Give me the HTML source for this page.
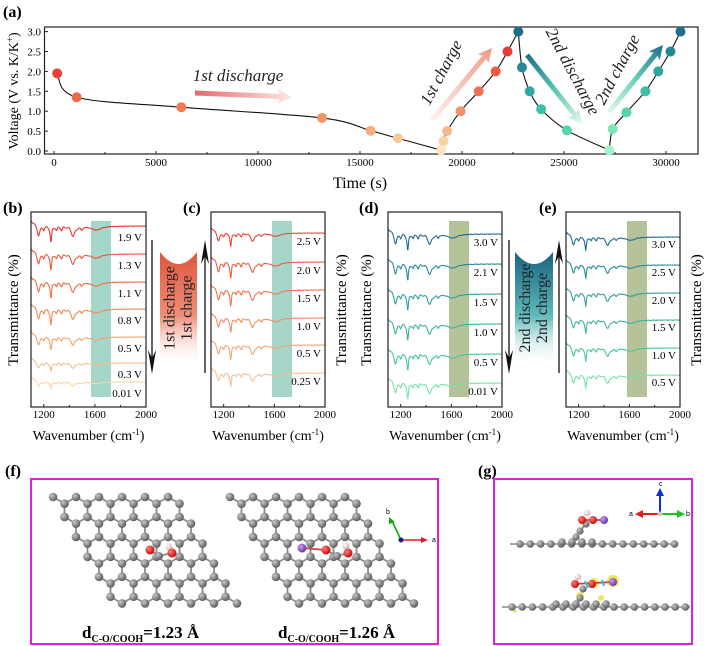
<!DOCTYPE html>
<html><head><meta charset="utf-8">
<style>
html,body{margin:0;padding:0;background:#fff;}
svg{display:block;font-family:"Liberation Serif",serif;}
</style></head>
<body>
<svg id="fig" width="708" height="646" viewBox="0 0 708 646" xmlns="http://www.w3.org/2000/svg">
<defs>
  <radialGradient id="cg" cx="0.35" cy="0.35" r="0.7"><stop offset="0" stop-color="#c8c8c8"/><stop offset="1" stop-color="#555"/></radialGradient>
  <radialGradient id="og" cx="0.35" cy="0.35" r="0.7"><stop offset="0" stop-color="#ff8080"/><stop offset="1" stop-color="#c80000"/></radialGradient>
  <radialGradient id="hg" cx="0.35" cy="0.35" r="0.7"><stop offset="0" stop-color="#fff"/><stop offset="1" stop-color="#d8a8a8"/></radialGradient>
  <radialGradient id="kg" cx="0.35" cy="0.35" r="0.7"><stop offset="0" stop-color="#c8a0f0"/><stop offset="1" stop-color="#6a2aa8"/></radialGradient>
  <linearGradient id="fr" x1="0" y1="0" x2="0" y2="1"><stop offset="0" stop-color="#e0553f"/><stop offset="0.55" stop-color="#ee8e78"/><stop offset="1" stop-color="#fff" stop-opacity="0"/></linearGradient>
  <linearGradient id="ft" x1="0" y1="0" x2="0" y2="1"><stop offset="0" stop-color="#1a6482"/><stop offset="0.55" stop-color="#5fb9b9"/><stop offset="1" stop-color="#fff" stop-opacity="0"/></linearGradient>
  <linearGradient id="a1" x1="0" y1="0" x2="1" y2="0"><stop offset="0" stop-color="#e46a6a"/><stop offset="1" stop-color="#fde8e4"/></linearGradient>
  <linearGradient id="a2" x1="0" y1="0" x2="1" y2="0"><stop offset="0" stop-color="#fff0ec"/><stop offset="1" stop-color="#ee9a8c"/></linearGradient>
  <linearGradient id="a3" x1="0" y1="0" x2="1" y2="0"><stop offset="0" stop-color="#1e6e8e"/><stop offset="0.5" stop-color="#5cc4b0"/><stop offset="1" stop-color="#e4f9ee"/></linearGradient>
  <linearGradient id="a4" x1="0" y1="0" x2="1" y2="0"><stop offset="0" stop-color="#dcf8e8"/><stop offset="0.5" stop-color="#6ad0b4"/><stop offset="1" stop-color="#1e6e8e"/></linearGradient>
</defs>
<g id="root"></g>
</svg>
<script>
// ---------- Panel (a) data ----------
const timeS=[156,1110,6240,13140,15520,16860,18980,19090,19270,19930,20820,21650,22230,22760,22940,23320,23880,25140,27220,27390,28060,28990,29620,30220,30710];
const voltV=[1.95,1.35,1.1,0.83,0.51,0.32,0.02,0.25,0.5,1.0,1.5,2.0,2.5,3.0,2.1,1.5,1.05,0.52,0.02,0.55,0.97,1.5,2.0,2.5,3.0];
const segBreaks=[0,6,13,18,24];
const xTicksA=[0,5000,10000,15000,20000,25000,30000];
const yTicksA=[0,0.5,1.0,1.5,2.0,2.5,3.0];
const markerColors=['#e8403a','#ee6a48','#f07a52','#f2956a','#f6b080','#f9c79c','#fde3c2','#fbd3a8','#f8b98a','#f2916a','#ee7353','#eb5a42','#e53e36','#1e6e8e','#24899a','#2fa8a4','#3cc0a6','#55d6a8','#a8f0c8','#7fe6b4','#55d4a8','#3cbfa4','#2ea5a0','#248a98','#1e6e8e'];
// ---------- FTIR data ----------
const peakPos=[1160,1200,1256,1300,1340,1430,1495,1610];
const peakDepth=[9,3,16,4,4,10,3,4];
const peakWidth=[12,6,7,7,7,18,10,45];
const wnTicks=[1200,1600,2000];
const voltsB=['1.9 V','1.3 V','1.1 V','0.8 V','0.5 V','0.3 V','0.01 V'];
const voltsC=['2.5 V','2.0 V','1.5 V','1.0 V','0.5 V','0.25 V'];
const voltsD=['3.0 V','2.1 V','1.5 V','1.0 V','0.5 V','0.01 V'];
const voltsE=['3.0 V','2.5 V','2.0 V','1.5 V','1.0 V','0.5 V'];
const ampB=[1,1,1,1,0.8,0.5,0.4];
const ampC=[0.8,1,1,0.9,0.9,0.8];
const ampD=[1,1,1,1,1,1];
const ampE=[0.8,0.8,0.8,0.8,0.8,0.8];

const NS='http://www.w3.org/2000/svg';
const root=document.getElementById('root');
function mk(tag,attrs,parent,text){const e=document.createElementNS(NS,tag);for(const k in attrs)e.setAttribute(k,attrs[k]);if(text!==undefined)e.textContent=text;(parent||root).appendChild(e);return e;}

// ---------- Panel (a) ----------
const gA=mk('g',{});


const xA=t=>54+t*0.0204, yA=v=>151-v*39.8;
let lab=mk('text',{x:3,y:17,'font-size':16,'font-weight':'bold'},gA,'(a)');


const fa=mk('rect',{x:44.5,y:27,width:653.5,height:127,fill:'none',stroke:'#222','stroke-width':1.2},gA);


xTicksA.forEach(t=>{
  mk('line',{x1:xA(t),x2:xA(t),y1:154,y2:151,stroke:'#222'},gA);
  mk('line',{x1:xA(t+2500),x2:xA(t+2500),y1:154,y2:152,stroke:'#222'},gA);
  const l=mk('text',{x:xA(t),y:166,'font-size':11,'text-anchor':'middle'},gA,String(t));
  
  
});
yTicksA.forEach(v=>{
  mk('line',{x1:44.5,x2:48,y1:yA(v),y2:yA(v),stroke:'#222'},gA);
  const l=mk('text',{x:41,y:yA(v)+4,'font-size':11,'text-anchor':'end'},gA,v.toFixed(1));
  
  
});
let xt=mk('text',{x:360,y:188,'font-size':16,'text-anchor':'middle'},gA,'Time (s)');


let yt=mk('text',{x:0,y:0,'font-size':14,'text-anchor':'middle',transform:'translate(18,91) rotate(-90)'},gA);
yt.innerHTML='Voltage (V vs. K/K<tspan dy="-5" font-size="9">+</tspan><tspan dy="5">)</tspan>';


function crPath(pts){let d=`M${pts[0][0]},${pts[0][1]}`;for(let i=0;i<pts.length-1;i++){const p0=pts[Math.max(0,i-1)],p1=pts[i],p2=pts[i+1],p3=pts[Math.min(pts.length-1,i+2)];d+=` C${p1[0]+(p2[0]-p0[0])/6},${p1[1]+(p2[1]-p0[1])/6} ${p2[0]-(p3[0]-p1[0])/6},${p2[1]-(p3[1]-p1[1])/6} ${p2[0]},${p2[1]}`;}return d;}
for(let s=0;s<segBreaks.length-1;s++){
  const pts=[];for(let i=segBreaks[s];i<=segBreaks[s+1];i++)pts.push([xA(timeS[i]),yA(voltV[i])]);
  const p=mk('path',{d:crPath(pts),fill:'none',stroke:'#111','stroke-width':1.1},gA);
  
  
}
timeS.forEach((t,i)=>{
  const c=mk('circle',{cx:xA(t),cy:yA(voltV[i]),r:5,fill:markerColors[i]},gA);
  
  
});
function gradArrow(x1,y1,x2,y2,grad,name){
  const ang=Math.atan2(y2-y1,x2-x1),L=Math.hypot(x2-x1,y2-y1);
  const g=mk('g',{transform:`translate(${x1},${y1}) rotate(${ang*180/Math.PI})`},gA);
  
  
  mk('path',{d:`M0,-2.5 L${L-12},-2.5 L${L-14},-7 L${L},0 L${L-14},7 L${L-12},2.5 L0,2.5 Z`,fill:`url(#${grad})`},g);
}
gradArrow(195,93,292,97,'a1','arrow-1st-discharge');
gradArrow(432,120,492,48,'a2','arrow-1st-charge');
gradArrow(527,55,582,124,'a3','arrow-2nd-discharge');
gradArrow(609,112,663,45,'a4','arrow-2nd-charge');
function itext(x,y,rot,s,name){const t=mk('text',{x:0,y:0,'font-size':17,'font-style':'italic','text-anchor':'middle',fill:'#222',transform:`translate(${x},${y}) rotate(${rot})`},gA,s);}
itext(238,81,0,'1st discharge','label-1st-discharge');
itext(446,75,-62,'1st charge','label-1st-charge');
itext(568,74,62,'2nd discharge','label-2nd-discharge');
itext(622,72,-62,'2nd charge','label-2nd-charge');

// ---------- FTIR panels ----------
function ftir(cfg){
  const g=mk('g',{});
  
  
  const L=cfg.L,R=cfg.R,T=212,B=407;
  const xw=w=>L+(w-1100)/900*(R-L);
  const l=mk('text',{x:cfg.lx,y:213,'font-size':16,'font-weight':'bold'},g,cfg.label);
  
  
  const band=mk('rect',{x:cfg.bx,y:221,width:20,height:176,fill:cfg.band},g);
  
  
  cfg.volts.forEach((v,k)=>{
    let d='';
    for(let w=1100;w<=2000;w+=2){
      let y=cfg.base[k]-(w<1150?6*(1150-w)/50:0);
      for(let p=0;p<peakPos.length;p++){const dw=w-peakPos[p];y+=cfg.amp[k]*peakDepth[p]*peakWidth[p]*peakWidth[p]/(dw*dw+peakWidth[p]*peakWidth[p]);}
      y+=0.8*Math.sin(w/7)*(w<1500?1:0.2)*cfg.amp[k];
      d+=(d?' L':'M')+xw(w).toFixed(1)+','+y.toFixed(1);
    }
    const p=mk('path',{d,fill:'none',stroke:cfg.colors[k],'stroke-width':1.1},g);
    
    
    const t=mk('text',{x:R-4,y:cfg.base[k]+cfg.lo,'font-size':11,'text-anchor':'end'},g,v);
    
    
  });
  const fr=mk('rect',{x:L,y:T,width:R-L,height:B-T,fill:'none',stroke:'#222','stroke-width':1.2},g);
  
  
  wnTicks.forEach(w=>{
    mk('line',{x1:xw(w),x2:xw(w),y1:B,y2:B-3,stroke:'#222'},g);
    if(w-200>1100)mk('line',{x1:xw(w-200),x2:xw(w-200),y1:B,y2:B-2,stroke:'#222'},g);
    const t=mk('text',{x:xw(w),y:418,'font-size':11,'text-anchor':'middle'},g,String(w));
    
    
  });
  const xtt=mk('text',{x:(L+R)/2,y:440,'font-size':14,'text-anchor':'middle'},g);
  xtt.innerHTML='Wavenumber (cm<tspan dy="-5" font-size="9">-1</tspan><tspan dy="5">)</tspan>';
  
  
  const ytt=mk('text',{x:0,y:0,'font-size':15,'text-anchor':'middle',transform:`translate(${cfg.tx},310) rotate(-90)`},g,'Transmittance (%)');
  
  
}
ftir({name:'ftir-panel-b',label:'(b)',lx:3,L:31,R:146,bx:91,band:'#a6d6c9',volts:voltsB,amp:ampB,base:[226,254,282,309,337,363,382],lo:15,tx:18,colors:['#e53935','#ea5a3c','#ee6e45','#f08a55','#f4a56c','#f7bd88','#fbd4a8']});
ftir({name:'ftir-panel-c',label:'(c)',lx:183,L:211,R:325,bx:272,band:'#a6d6c9',volts:voltsC,amp:ampC,base:[233,262,290,318,345,373],lo:12,tx:346,colors:['#e8483a','#ec5e40','#ef7450','#f28c62','#f5a479','#f8bf94']});
ftir({name:'ftir-panel-d',label:'(d)',lx:359,L:388,R:502,bx:449,band:'#b4c39a',volts:voltsD,amp:ampD,base:[234,264,294,324,354,383],lo:12,tx:371,colors:['#1c6e8c','#2a8a9a','#33a0a0','#3cb59e','#48c79c','#78e2ad']});
ftir({name:'ftir-panel-e',label:'(e)',lx:539,L:566,R:680,bx:627,band:'#b4c39a',volts:voltsE,amp:ampE,base:[237,265,293,320,348,375],lo:11,tx:701,colors:['#1c6e8c','#2a8a9a','#33a0a0','#3cb59e','#48c79c','#78e2ad']});

function funnel(x1,x2,grad,t1,t2,ax1,ax2,name){
  const g=mk('g',{});
  
  
  const m=(x1+x2)/2;
  mk('path',{d:`M${x1},252 Q${m},276 ${x2},252 L${x2},368 Q${m},346 ${x1},368 Z`,fill:`url(#${grad})`},g);
  mk('text',{x:0,y:0,'font-size':16,'text-anchor':'middle',fill:'#222',transform:`translate(${m-4},308) rotate(-90)`},g,t1);
  mk('text',{x:0,y:0,'font-size':16,'text-anchor':'middle',fill:'#222',transform:`translate(${m+13},308) rotate(-90)`},g,t2);
  mk('line',{x1:ax1,x2:ax1,y1:240,y2:360,stroke:'#111','stroke-width':1.3},g);
  mk('path',{d:`M${ax1-4},350 L${ax1},374 L${ax1+4},350 L${ax1},358 Z`,fill:'#111'},g);
  mk('line',{x1:ax2,x2:ax2,y1:254,y2:373,stroke:'#111','stroke-width':1.3},g);
  mk('path',{d:`M${ax2-4},264 L${ax2},240 L${ax2+4},264 L${ax2},256 Z`,fill:'#111'},g);
}
funnel(160,197,'fr','1st discharge','1st charge',152,205,'cycle-1-indicator');
funnel(515,553,'ft','2nd discharge','2nd charge',509,559,'cycle-2-indicator');

// ---------- Panel (f) ----------
function atom(x,y,r,fill,g){mk('circle',{cx:x,cy:y,r:r,fill:`url(#${fill})`},g);}
function bond(x1,y1,x2,y2,g,c){mk('line',{x1,y1,x2,y2,stroke:c||'#8a8a8a','stroke-width':1.8},g);}
function lattice(x0,y0,g){
  const s=23,d=13.3;
  const at=[];
  for(let j=0;j<6;j++)for(let i=0;i<6;i++){
    const ox=x0+i*s+j*s/2,oy=y0+j*1.5*d;
    bond(ox,oy,ox+s/2,oy+d/2,g);
    if(i<5)bond(ox+s/2,oy+d/2,ox+s,oy,g);
    if(j<5)bond(ox+s/2,oy+d/2,ox+s/2,oy+1.5*d,g);
    at.push([ox,oy],[ox+s/2,oy+d/2]);
  }
  at.forEach(a=>atom(a[0],a[1],4.3,'cg',g));
}
const gF=mk('g',{});


lab=mk('text',{x:5,y:476,'font-size':16,'font-weight':'bold'},gF,'(f)');


mk('rect',{x:31,y:479,width:407,height:165,fill:'none',stroke:'#e020e0','stroke-width':2},gF);
lattice(53,497,gF);
lattice(230,497,gF);
bond(150,550,159,556,gF);bond(159,556,172,553,gF);
atom(159,556,4,'cg',gF);atom(150,550,4.5,'og',gF);atom(169,547,3.5,'hg',gF);atom(172,553,4.5,'og',gF);
bond(302,548,326,550,gF,'#d04040');bond(326,550,337,556,gF);bond(337,556,348,553,gF);
atom(337,556,4,'cg',gF);atom(302,548,4.5,'kg',gF);atom(326,550,4.5,'og',gF);atom(346,546,3.5,'hg',gF);atom(348,553,4.5,'og',gF);
// axis triad f
mk('line',{x1:401,y1:540,x2:392,y2:521,stroke:'#1a1',"stroke-width":1.6},gF);
mk('path',{d:'M389,517 L389,524 L395,522 Z',fill:'#1a1'},gF);
mk('line',{x1:401,y1:540,x2:422,y2:540,stroke:'#e02020',"stroke-width":1.6},gF);
mk('path',{d:'M428,540 L421,537 L421,543 Z',fill:'#e02020'},gF);
mk('circle',{cx:401,cy:540,r:2.5,fill:'#1a1a80'},gF);
mk('text',{x:386,y:514,'font-size':7,'font-family':'Liberation Sans, sans-serif'},gF,'b');
mk('text',{x:432,y:542,'font-size':7,'font-family':'Liberation Sans, sans-serif'},gF,'a');
let dl=mk('text',{x:82,y:638,'font-size':17,'font-weight':'bold'},gF);
dl.innerHTML='d<tspan dy="4" font-size="10">C-O/COOH</tspan><tspan dy="-4">=1.23 Å</tspan>';


dl=mk('text',{x:278,y:638,'font-size':17,'font-weight':'bold'},gF);
dl.innerHTML='d<tspan dy="4" font-size="10">C-O/COOH</tspan><tspan dy="-4">=1.26 Å</tspan>';



// ---------- Panel (g) ----------
const gG=mk('g',{});


lab=mk('text',{x:478,y:476,'font-size':16,'font-weight':'bold'},gG,'(g)');


mk('rect',{x:494,y:479,width:198,height:165,fill:'none',stroke:'#e020e0','stroke-width':2},gG);
mk('line',{x1:510,y1:544,x2:676,y2:544,stroke:'#888','stroke-width':1.5},gG);
for(let x=520;x<=676;x+=10.3)atom(x,544,3.8,'cg',gG);
[562,572,582,592].forEach(x=>atom(x,542,3.8,'cg',gG));
atom(576,537,3.6,'cg',gG);atom(580,531,3.6,'cg',gG);
bond(580,531,586,524,gG);atom(586,524,3.6,'cg',gG);
bond(582,520,604,520,gG,'#d04040');
atom(582,520,4,'og',gG);atom(587,513,3.3,'hg',gG);atom(593,520,4,'og',gG);atom(604,520,4,'kg',gG);
mk('line',{x1:660,y1:514,x2:660,y2:494,stroke:'#1030e0','stroke-width':2},gG);
mk('path',{d:'M660,488 L656,496 L664,496 Z',fill:'#1030e0'},gG);
mk('line',{x1:660,y1:514,x2:642,y2:514,stroke:'#e02020','stroke-width':2},gG);
mk('path',{d:'M635,514 L643,510 L643,518 Z',fill:'#e02020'},gG);
mk('line',{x1:660,y1:514,x2:678,y2:514,stroke:'#20c020','stroke-width':2},gG);
mk('path',{d:'M685,514 L677,510 L677,518 Z',fill:'#20c020'},gG);
mk('circle',{cx:660,cy:514,r:2.5,fill:'#ccc'},gG);
mk('text',{x:659,y:486,'font-size':7,'font-family':'Liberation Sans, sans-serif'},gG,'c');
mk('text',{x:629,y:516,'font-size':7,'font-family':'Liberation Sans, sans-serif'},gG,'a');
mk('text',{x:686,y:516,'font-size':7,'font-family':'Liberation Sans, sans-serif'},gG,'b');
mk('line',{x1:502,y1:607,x2:690,y2:607,stroke:'#888','stroke-width':1.5},gG);
for(let x=512;x<=690;x+=10.2)atom(x,607,3.8,'cg',gG);
[556,566,576,586,596,606].forEach(x=>atom(x,604,3.8,'cg',gG));
mk('circle',{cx:613,cy:581,r:6,fill:'#e8e040',opacity:0.85},gG);
mk('circle',{cx:594,cy:583,r:5,fill:'#e8e040',opacity:0.85},gG);
mk('circle',{cx:580,cy:596,r:4,fill:'#e8e040',opacity:0.8},gG);
mk('circle',{cx:601,cy:598,r:3,fill:'#e8e040',opacity:0.8},gG);
mk('circle',{cx:515,cy:611,r:1.5,fill:'#e8e040'},gG);
atom(583,589,3.6,'cg',gG);atom(580,598,3.6,'cg',gG);
bond(575,584,613,582,gG,'#d04040');
mk('line',{x1:585,y1:581,x2:588,y2:588,stroke:'#30c0d0','stroke-width':2},gG);
mk('line',{x1:602,y1:580,x2:604,y2:586,stroke:'#30c0d0','stroke-width':2},gG);
atom(575,584,4,'og',gG);atom(578,577,3.3,'hg',gG);atom(592,584,4,'og',gG);atom(613,582,4,'kg',gG);
</script>
</body></html>
